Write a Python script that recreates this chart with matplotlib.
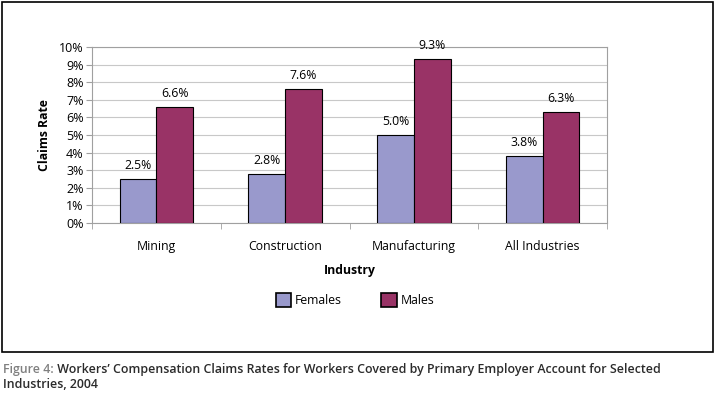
import matplotlib.pyplot as plt
import numpy as np
from matplotlib.patches import Rectangle
from matplotlib.ticker import MultipleLocator, PercentFormatter

industries = ["Mining", "Construction", "Manufacturing", "All Industries"]
females = [2.5, 2.8, 5.0, 3.8]
males = [6.6, 7.6, 9.3, 6.3]
series_names = ["Females", "Males"]
caption_lead = "Figure 4:"
caption_rest = " Workers\u2019 Compensation Claims Rates for Workers Covered by Primary Employer Account for Selected"
caption_line2 = "Industries, 2004"

plt.rcParams["font.family"] = ["Open Sans", "DejaVu Sans"]

W, H = 718, 398
fig = plt.figure(figsize=(W / 100, H / 100), dpi=100)
ax = fig.add_axes([92 / W, 1 - 223 / H, (607 - 92) / W, (223 - 47) / H])

x = np.arange(len(industries))
bw = 0.285
ax.bar(x - bw / 2, females, bw, color="#9999cc", edgecolor="black", linewidth=0.8,
       label=series_names[0], zorder=3)
ax.bar(x + bw / 2, males, bw, color="#993366", edgecolor="black", linewidth=0.8,
       label=series_names[1], zorder=3)

for xi, v in zip(x, females):
    ax.text(xi - bw / 2, v + 0.4, f"{v:.1f}%", ha="center", va="bottom", fontsize=8.8)
for xi, v in zip(x, males):
    ax.text(xi + bw / 2, v + 0.4, f"{v:.1f}%", ha="center", va="bottom", fontsize=8.8)

ax.set_xlim(-0.5, len(industries) - 0.5)
ax.set_ylim(0, 10)
ax.yaxis.set_major_locator(MultipleLocator(1))
ax.yaxis.set_major_formatter(PercentFormatter(decimals=0))
ax.grid(axis="y", color="#c8c8c8", linewidth=0.8, zorder=0)
for s in ax.spines.values():
    s.set_color("#a0a0a0")
    s.set_linewidth(0.8)
ax.set_xticks(x)
ax.set_xticklabels(industries, fontsize=8.8)
ax.set_xticks(np.arange(-0.5, len(industries)), minor=True)
ax.tick_params(axis="x", which="major", length=0, pad=12)
ax.tick_params(axis="x", which="minor", length=4, color="#a0a0a0")
ax.tick_params(axis="y", length=4, color="#a0a0a0", labelsize=9, pad=2)
ax.set_ylabel("Claims Rate", fontsize=8.8, fontweight="bold", labelpad=6)
ax.set_xlabel("Industry", fontsize=8.8, fontweight="bold", labelpad=8)

leg = fig.legend(loc="center", bbox_to_anchor=(355 / W, 1 - 300 / H), ncol=2, frameon=False,
                 fontsize=8.8, handlelength=1.3, handleheight=1.5, columnspacing=3.2,
                 handletextpad=0.3)
for p in leg.get_patches():
    p.set_linewidth(1.2)

fig.patches.append(Rectangle((1.5 / W, 1 - 352 / H), 711 / W, 350 / H, transform=fig.transFigure,
                             fill=False, edgecolor="black", linewidth=1.2))

# caption: shrink font so the first line spans the same width as the reference
cap_size = 10
t1 = fig.text(3 / W, 1 - 369 / H, caption_lead, fontsize=cap_size, color="#808080",
              fontweight="semibold", va="center")
t2 = fig.text(0, 1 - 369 / H, caption_rest, fontsize=cap_size, color="#2b2b2b",
              fontweight="semibold", va="center")
fig.canvas.draw()
r = fig.canvas.get_renderer()
total = t1.get_window_extent(r).width + t2.get_window_extent(r).width
cap_size = cap_size * 657 / total
t1.set_fontsize(cap_size)
t2.set_fontsize(cap_size)
fig.canvas.draw()
t2.set_x(t1.get_window_extent(r).x1 / W)
fig.text(3 / W, 1 - 385 / H, caption_line2, fontsize=cap_size, color="#2b2b2b",
         fontweight="semibold", va="center")

fig.savefig("out.png", dpi=100)
